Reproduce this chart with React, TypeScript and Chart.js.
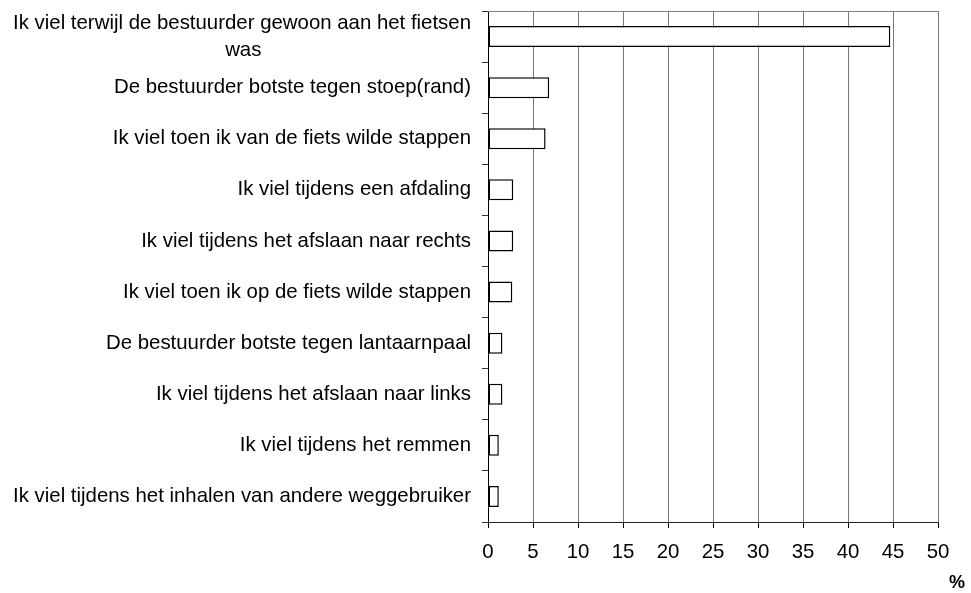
import React, { useEffect, useRef } from "react";
import { Chart, registerables } from "chart.js";

Chart.register(...registerables);

const categories: (string | string[])[] = [
  ["Ik viel terwijl de bestuurder gewoon aan het fietsen", "was"],
  "De bestuurder botste tegen stoep(rand)",
  "Ik viel toen ik van de fiets wilde stappen",
  "Ik viel tijdens een afdaling",
  "Ik viel tijdens het afslaan naar rechts",
  "Ik viel toen ik op de fiets wilde stappen",
  "De bestuurder botste tegen lantaarnpaal",
  "Ik viel tijdens het afslaan naar links",
  "Ik viel tijdens het remmen",
  "Ik viel tijdens het inhalen van andere weggebruiker",
];
const values = [44.7, 6.8, 6.4, 2.8, 2.8, 2.7, 1.6, 1.6, 1.2, 1.2];
const xMin = 0;
const xMax = 50;
const xStep = 5;
const axisTitle = "%";

const FONT = "'Liberation Sans', Arial, Helvetica, sans-serif";
const FSIZE = 20.4;

// centre the wrapped second line under the first (Excel-style) by padding with trailing spaces
function centredLines(label: string | string[]): string | string[] {
  if (!Array.isArray(label)) return label;
  const c = document.createElement("canvas").getContext("2d")!;
  c.font = `${FSIZE}px ${FONT}`;
  const widest = Math.max(...label.map((l) => c.measureText(l).width));
  const sp = c.measureText(" ").width;
  return label.map((l) => {
    const w = c.measureText(l).width;
    const n = Math.round((widest - w) / 2 / sp);
    return l + " ".repeat(n);
  });
}

export default function App() {
  const ref = useRef<HTMLCanvasElement>(null);
  useEffect(() => {
    if (!ref.current) return;
    const labels = categories.map(centredLines);
    const frame = {
      id: "frame",
      afterDraw(chart: any) {
        const { ctx, chartArea } = chart;
        ctx.save();
        ctx.strokeStyle = "#808080";
        ctx.lineWidth = 1;
        ctx.beginPath();
        ctx.moveTo(chartArea.left, chartArea.top + 0.5);
        ctx.lineTo(chartArea.right, chartArea.top + 0.5);
        ctx.stroke();
        ctx.fillStyle = "#000";
        ctx.font = `bold 18px ${FONT}`;
        ctx.textAlign = "center";
        ctx.textBaseline = "middle";
        ctx.fillText(axisTitle, chartArea.right + 19, chartArea.bottom + 61);
        ctx.restore();
      },
    };
    const chart = new Chart(ref.current, {
      type: "bar",
      data: {
        labels,
        datasets: [
          {
            data: values,
            backgroundColor: "#ffffff",
            borderColor: "#000000",
            borderWidth: 1.5,
            borderSkipped: false,
            barPercentage: 0.41,
            categoryPercentage: 1,
          },
        ],
      },
      options: {
        indexAxis: "y",
        animation: false,
        responsive: false,
        maintainAspectRatio: false,
        devicePixelRatio: 1,
        layout: { padding: { top: 11, right: 33, left: 0, bottom: 0 } },
        plugins: { legend: { display: false }, tooltip: { enabled: false } },
        scales: {
          x: {
            type: "linear",
            min: xMin,
            max: xMax,
            ticks: {
              stepSize: xStep,
              color: "#000",
              padding: 12,
              font: { size: FSIZE, family: FONT },
            },
            grid: { color: "#777", tickColor: "#000", tickLength: 6, lineWidth: 1 },
            border: { color: "#222", width: 1 },
            afterFit: (s: any) => {
              s.height = 71;
              s.paddingLeft = 0;
              s.paddingRight = 0;
            },
          },
          y: {
            type: "category",
            offset: true,
            ticks: {
              autoSkip: false,
              color: "#000",
              padding: 11,
              font: { size: FSIZE, family: FONT, lineHeight: 1.32 },
            },
            grid: {
              offset: true,
              drawOnChartArea: false,
              tickLength: 6,
              color: "#333",
            },
            border: { color: "#000", width: 1 },
            afterFit: (s: any) => {
              s.width = 488;
              s.paddingTop = 0;
              s.paddingBottom = 0;
            },
          },
        },
      },
      plugins: [frame],
    } as any);
    return () => chart.destroy();
  }, []);
  return (
    <div style={{ position: "absolute", left: 0, top: 0, width: 971, height: 593 }}>
      <canvas ref={ref} width={971} height={593} style={{ display: "block" }} />
    </div>
  );
}
